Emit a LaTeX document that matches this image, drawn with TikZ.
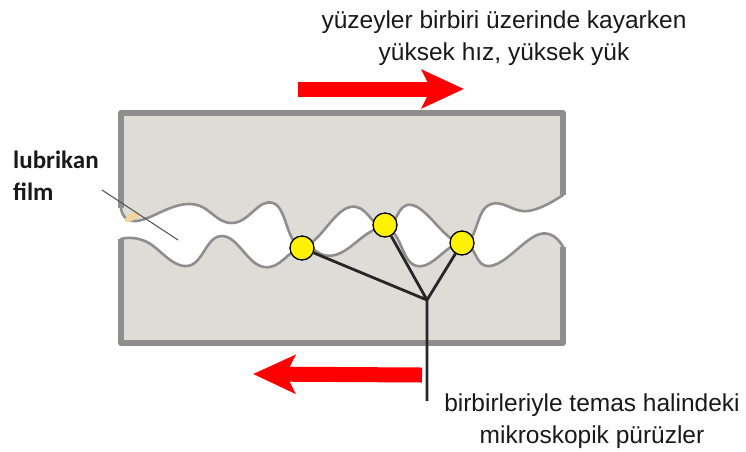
\documentclass[tikz,border=0pt]{standalone}
\usepackage{fontspec}
\setmainfont{Liberation Sans}
\newfontfamily\labelfont{Carlito}
\usepackage{tikz}
\usetikzlibrary{arrows.meta, positioning}
\definecolor{blockgrey}{HTML}{DEDCD6}
\definecolor{edgegrey}{HTML}{8E8E8E}
\definecolor{filmtan}{HTML}{F2D59A}

\begin{document}
\begin{tikzpicture}[
    x=1pt, y=-1pt, line join=round,
    block/.style={fill=blockgrey, draw=edgegrey, line width=2.6pt},
    rim/.style={draw=edgegrey, line width=6pt},
    asperity/.style={circle, draw=black, line width=1.3pt, fill=yellow, minimum size=24pt, inner sep=0pt},
    stem/.style={black!85, line width=2.8pt},
    slide/.style={red, line width=15pt, -{Stealth[length=42pt, width=38pt, inset=9pt]}},
    caption/.style={font=\fontsize{24.5}{32}\selectfont, align=center, text=black!90, inner sep=0pt}
]
    \useasboundingbox (0,0) rectangle (746,451);

    % upper block, rough surface facing down
    \path[block] plot[smooth, tension=0.75] coordinates {
        (121,208) (136,221) (190,204) (232,223) (273,203) (302,246)
        (350,207) (385,228) (412,205) (462,243) (489,205) (528,211)
        (563,195)}
        -- (563,113) -- (121,113) -- cycle;
    \draw[rim] (121,208) -- (121,113) -- (563,113) -- (563,195);

    % lower block, rough surface facing up
    \path[block] plot[smooth, tension=0.75] coordinates {
        (121,239) (145,241) (187,266) (222,236) (264,267) (302,248)
        (335,255) (385,228) (417,266) (462,243) (490,266) (540,234)
        (563,247)}
        -- (563,343) -- (121,343) -- cycle;
    \draw[rim] (121,239) -- (121,343) -- (563,343) -- (563,247);

    % lubricant trapped at the inlet
    \fill[filmtan, rotate around={30:(132,217)}] (132,217) ellipse (8pt and 3.5pt);

    % contact points
    \node[asperity] (p1) at (302,248) {};
    \node[asperity] (p2) at (385,225) {};
    \node[asperity] (p3) at (462,243) {};
    \coordinate (hub) at (427,300);
    \coordinate (tail) at (427,401);
    \draw[stem] (p1) -- (hub) -- (p2) (hub) -- (p3) (hub) -- (tail);

    % sliding directions
    \coordinate (upfrom) at (298,89);
    \coordinate (upto) at (464,89);
    \coordinate (lowfrom) at (422,375);
    \coordinate (lowto) at (253,374);
    \draw[slide] (upfrom) -- (upto);
    \draw[slide] (lowfrom) -- (lowto);

    % labels
    \node[caption, anchor=north] (motion) at (504,11) {yüzeyler birbiri üzerinde kayarken\\yüksek hız, yüksek yük};
    \node[caption, anchor=north] (contact) at (592,394) {birbirleriyle temas halindeki\\mikroskopik pürüzler};
    \node[anchor=north west, align=left, inner sep=0pt, text=black!90,
          font=\labelfont\bfseries\fontsize{25}{32}\selectfont] (film) at (13,151) {lubrikan\\film};
    \coordinate (filmfrom) at (102,190);
    \coordinate (filmto) at (178,240);
    \draw[gray!70!black, line width=1.1pt] (filmfrom) -- (filmto);
\end{tikzpicture}
\end{document}
